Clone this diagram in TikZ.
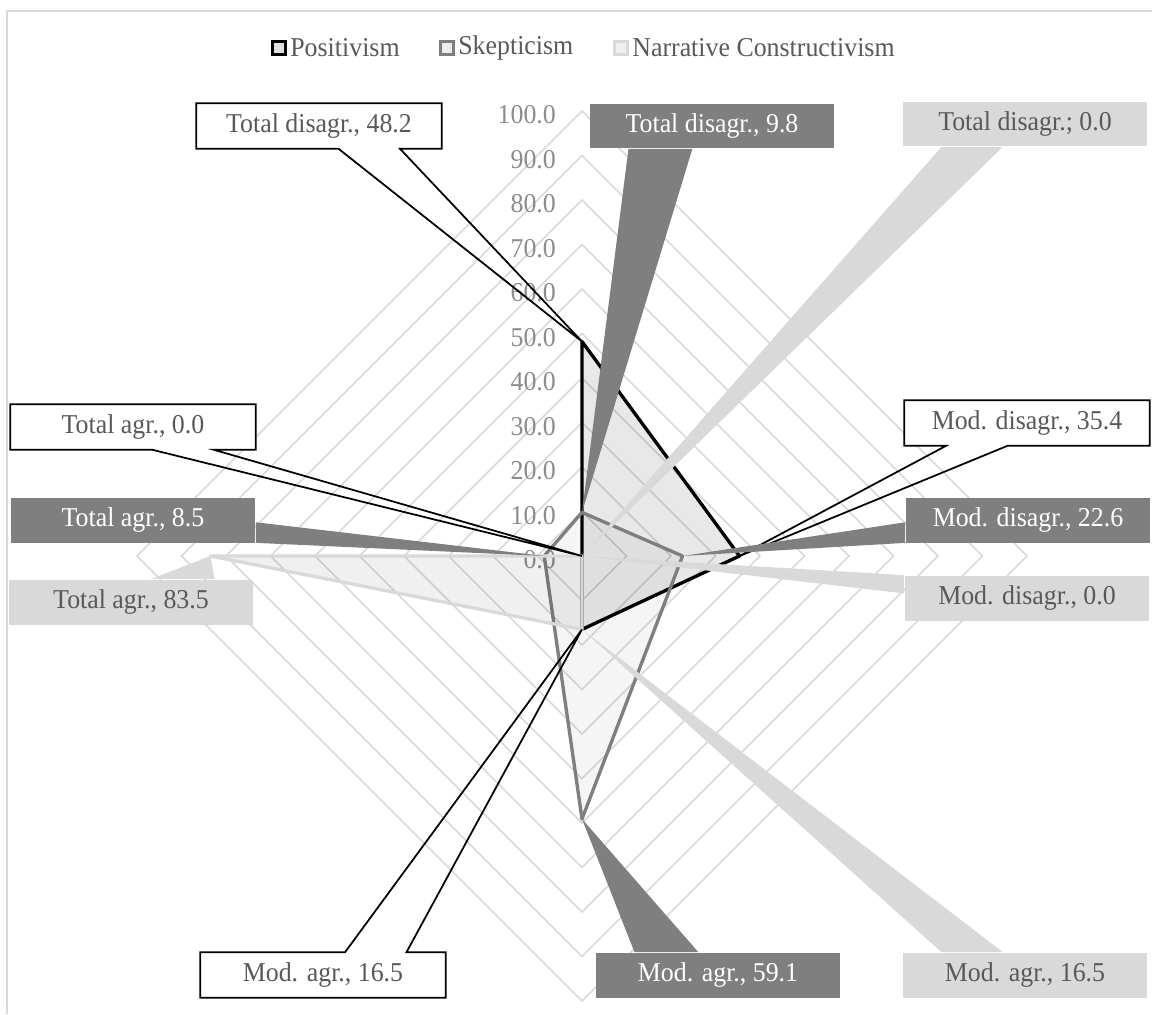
\documentclass[tikz,border=0pt]{standalone}
\usepackage{fontspec}
\setmainfont[FakeStretch=0.95]{Liberation Serif}
\usetikzlibrary{calc}
\definecolor{gridgray}{HTML}{D9D9D9}
\definecolor{skepfill}{HTML}{7F7F7F}
\definecolor{ncfill}{HTML}{D9D9D9}
\definecolor{labeltext}{HTML}{595959}
\definecolor{axistext}{HTML}{8C8C8C}
\begin{document}
\begin{tikzpicture}[x=0.02cm, y=-0.02cm,
        every node/.style={font=\fontsize{15.5}{18}\selectfont},
        gridline/.style={gridgray, line width=0.9pt},
        axislbl/.style={text=axistext, inner sep=0pt, anchor=east},
        serie/.style={line width=1.9pt, line join=round},
        callout/.style={minimum width=4.9cm, minimum height=0.9cm, inner sep=0pt, text=labeltext},
        poscallout/.style={callout, fill=white},
        skepcallout/.style={callout, fill=skepfill, text=white},
        nccallout/.style={callout, fill=ncfill},
        leader/.style={black, line width=1pt},
        legmark/.style={minimum size=0.26cm, inner sep=0pt, line width=1.5pt},
        legtext/.style={text=labeltext, inner sep=0pt, anchor=west}
    ]
    \useasboundingbox (0,0) rectangle (1152,1014);
    \draw[gridgray, line width=1.1pt] (7,1014) -- (7,11) -- (1152,11);

    \begin{scope}[shift={(582,556)}, x=0.089cm, y=0.089cm]
        \coordinate (o) at (0,0);
        \foreach \r in {10,20,...,100}
            \draw[gridline] (90:\r) -- (0:\r) -- (270:\r) -- (180:\r) -- cycle;
        \foreach \r in {0,10,...,100}
            \node[axislbl] (ax\r) at (-5.8,\r-0.9) {\r.0};
        \foreach \v [count=\i] in {48.2,35.4,16.5,0}
            \coordinate (p\i) at ({180-90*\i}:\v);
        \foreach \v [count=\i] in {9.8,22.6,59.1,8.5}
            \coordinate (s\i) at ({180-90*\i}:\v);
        \foreach \v [count=\i] in {0,0,16.5,83.5}
            \coordinate (n\i) at ({180-90*\i}:\v);
    \end{scope}

    \filldraw[serie, draw=black, fill=black, fill opacity=0.09] (p1) -- (p2) -- (p3) -- (p4) -- cycle;
    \filldraw[serie, draw=skepfill, fill=black, fill opacity=0.04] (s1) -- (s2) -- (s3) -- (s4) -- cycle;
    \filldraw[serie, draw=ncfill, fill=black, fill opacity=0.06] (n1) -- (n2) -- (n3) -- (n4) -- cycle;

    \node[poscallout] (pA) at (319,126) {Total disagr., 48.2};
    \draw[leader] (pA.south west) -- ($(pA.south west)!.58!(pA.south east)$) -- (p1) -- ($(pA.south west)!.83!(pA.south east)$) -- (pA.south east) -- (pA.north east) -- (pA.north west) -- cycle;
    \node[poscallout] (pB) at (1027,423) {Mod. disagr., 35.4};
    \draw[leader] (pB.south west) -- ($(pB.south west)!.17!(pB.south east)$) -- (p2) -- ($(pB.south west)!.42!(pB.south east)$) -- (pB.south east) -- (pB.north east) -- (pB.north west) -- cycle;
    \node[poscallout] (pC) at (323,975) {Mod. agr., 16.5};
    \draw[leader] (pC.north west) -- ($(pC.north west)!.59!(pC.north east)$) -- (p3) -- ($(pC.north west)!.84!(pC.north east)$) -- (pC.north east) -- (pC.south east) -- (pC.south west) -- cycle;
    \node[poscallout] (pD) at (133,427) {Total agr., 0.0};
    \draw[leader] (pD.south west) -- ($(pD.south west)!.58!(pD.south east)$) -- (p4) -- ($(pD.south west)!.83!(pD.south east)$) -- (pD.south east) -- (pD.north east) -- (pD.north west) -- cycle;

    \node[skepcallout] (sA) at (712,126) {Total disagr., 9.8};
    \fill[skepfill] ($(sA.south west)!.16!(sA.south east)$) -- (s1) -- ($(sA.south west)!.42!(sA.south east)$) -- cycle;
    \node[skepcallout] (sB) at (1028,520) {Mod. disagr., 22.6};
    \fill[skepfill] ($(sB.south west)!.45!(sB.north west)$) -- (s2) -- (sB.south west) -- cycle;
    \node[skepcallout] (sC) at (718,975) {Mod. agr., 59.1};
    \fill[skepfill] ($(sC.north west)!.16!(sC.north east)$) -- (s3) -- ($(sC.north west)!.42!(sC.north east)$) -- cycle;
    \node[skepcallout] (sD) at (133,520) {Total agr., 8.5};
    \fill[skepfill] ($(sD.south east)!.45!(sD.north east)$) -- (s4) -- (sD.south east) -- cycle;

    \node[nccallout] (nA) at (1025,124) {Total disagr.; 0.0};
    \fill[ncfill] ($(nA.south west)!.16!(nA.south east)$) -- (n1) -- ($(nA.south west)!.41!(nA.south east)$) -- cycle;
    \node[nccallout] (nB) at (1027,598) {Mod. disagr., 0.0};
    \fill[ncfill] (nB.north west) -- (n2) -- ($(nB.north west)!.4!(nB.south west)$) -- cycle;
    \node[nccallout] (nC) at (1025,975) {Mod. agr., 16.5};
    \fill[ncfill] ($(nC.north west)!.16!(nC.north east)$) -- (n3) -- ($(nC.north west)!.41!(nC.north east)$) -- cycle;
    \node[nccallout] (nD) at (131,602) {Total agr., 83.5};
    \fill[ncfill] ($(nD.north west)!.58!(nD.north east)$) -- (n4) -- ($(nD.north west)!.84!(nD.north east)$) -- cycle;

    \node[legmark, draw=black, fill=black!12] (lm1) at (279,48) {};
    \node[legtext] (lt1) at (290,48) {Positivism};
    \node[legmark, draw=skepfill, fill=black!7] (lm2) at (447,48) {};
    \node[legtext] (lt2) at (458,48) {Skepticism};
    \node[legmark, draw=ncfill, fill=black!6] (lm3) at (621,48) {};
    \node[legtext] (lt3) at (632,48) {Narrative Constructivism};
\end{tikzpicture}
\end{document}
